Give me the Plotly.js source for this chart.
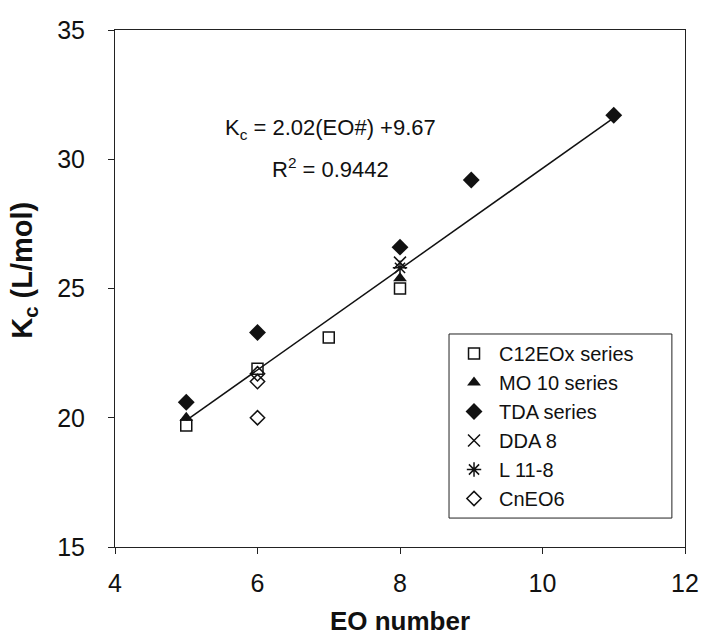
<!DOCTYPE html>
<html>
<head>
<meta charset="utf-8">
<script src="https://cdn.plot.ly/plotly-3.0.1.min.js"></script>
<style>html,body{margin:0;padding:0;background:#fff;}#chart{width:703px;height:636px;}</style>
</head>
<body>
<div id="chart"></div>
<script>
// Data
const c12X = [5, 6, 7, 8];
const c12Y = [19.7, 21.9, 23.1, 25.0];
const mo10X = [5, 8];
const mo10Y = [20.0, 25.4];
const tdaX = [5, 6, 8, 9, 11];
const tdaY = [20.6, 23.3, 26.6, 29.2, 31.7];
const dda8X = [8];
const dda8Y = [26.0];
const l118X = [8];
const l118Y = [25.8];
const cneo6X = [6, 6, 6];
const cneo6Y = [21.7, 21.4, 20.0];
const trendX = [5, 11];
const trendY = [19.9, 31.6];
const seriesNames = ["C12EOx series", "MO 10 series", "TDA series", "DDA 8", "L 11-8", "CnEO6"];
const xTicks = [4, 6, 8, 10, 12];
const yTicks = [15, 20, 25, 30, 35];

const FONT = 'Arial, "Liberation Sans", sans-serif';
const ink = '#111';

const traces = [
  {x: trendX, y: trendY, mode: 'lines', line: {color: ink, width: 1.5}, showlegend: false, hoverinfo: 'skip'},
  {x: c12X, y: c12Y, name: seriesNames[0], mode: 'markers', marker: {symbol: 'square-open', size: 11, color: ink, line: {width: 1.5, color: ink}}},
  {x: mo10X, y: mo10Y, name: seriesNames[1], mode: 'markers', marker: {symbol: 'triangle-up', size: 12, color: ink}},
  {x: tdaX, y: tdaY, name: seriesNames[2], mode: 'markers', marker: {symbol: 'diamond', size: 13, color: ink}},
  {x: dda8X, y: dda8Y, name: seriesNames[3], mode: 'markers', marker: {symbol: 'x-thin-open', size: 12, color: ink, line: {width: 1.5, color: ink}}},
  {x: l118X, y: l118Y, name: seriesNames[4], mode: 'markers', marker: {symbol: 'asterisk-open', size: 12, color: ink, line: {width: 1.5, color: ink}}},
  {x: cneo6X, y: cneo6Y, name: seriesNames[5], mode: 'markers', marker: {symbol: 'diamond-open', size: 11, color: ink, line: {width: 1.5, color: ink}}}
];

const axisCommon = {
  showgrid: false, zeroline: false, showline: true, mirror: true,
  linecolor: '#222', linewidth: 1, ticks: 'outside', ticklen: 6, tickcolor: '#222',
  tickfont: {family: FONT, size: 25, color: ink}
};

const layout = {
  width: 703, height: 636,
  margin: {l: 115, r: 18, t: 30, b: 89},
  paper_bgcolor: '#fff', plot_bgcolor: '#fff',
  font: {family: FONT, color: ink},
  xaxis: Object.assign({}, axisCommon, {
    range: [4, 12], tickvals: xTicks, ticktext: xTicks.map(String), ticklabelstandoff: 8,
    title: {text: '<b>EO number</b>', font: {family: FONT, size: 26, color: ink}, standoff: 15}
  }),
  yaxis: Object.assign({}, axisCommon, {
    range: [15, 35], tickvals: yTicks, ticktext: yTicks.map(String), ticklabelstandoff: 18
  }),
  legend: {
    x: 0.586, y: 0.412, xanchor: 'left', yanchor: 'top',
    borderwidth: 0, bgcolor: 'rgba(255,255,255,0)',
    font: {family: FONT, size: 20, color: ink},
    tracegroupgap: 0, itemwidth: 40
  },
  shapes: [
    {type: 'rect', xref: 'paper', yref: 'paper', x0: 0.586, x1: 0.977, y0: 0.056, y1: 0.412,
     line: {color: '#222', width: 1}, fillcolor: '#fff', layer: 'below'}
  ],
  annotations: [
    {xref: 'paper', yref: 'paper', x: -0.195, y: 0.536, textangle: -90, showarrow: false,
     text: '<b>K<sub>c</sub> (L/mol)</b>', font: {family: FONT, size: 29, color: ink}},
    {xref: 'x', yref: 'y', x: 7.02, y: 31.16, showarrow: false,
     text: 'K<sub>c</sub> = 2.02(EO#) +9.67', font: {family: FONT, size: 22, color: ink}},
    {xref: 'x', yref: 'y', x: 7.02, y: 29.68, showarrow: false,
     text: 'R<sup>2</sup> = 0.9442', font: {family: FONT, size: 22, color: ink}}
  ]
};

Plotly.newPlot('chart', traces, layout, {displayModeBar: false, staticPlot: true});
</script>
</body>
</html>
